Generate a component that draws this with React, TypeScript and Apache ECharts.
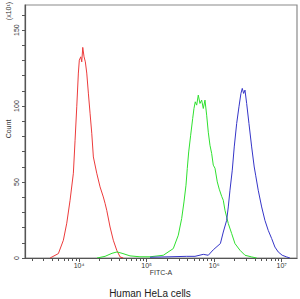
import React, { useEffect, useRef } from "react";
import * as echarts from "echarts";

// Histogram traces: [log10(FITC-A), count ×10]
const isotypeRed: [number, number][] = [
  [3.571, 0], [3.694, 2.9], [3.768, 11.7], [3.818, 22.9], [3.867, 38.0],
  [3.916, 55.8], [3.941, 77.5], [3.966, 99.5], [3.99, 121.7], [4.004, 130.2],
  [4.025, 132.4], [4.04, 129.1], [4.055, 138.6], [4.074, 132.4], [4.093, 129.1],
  [4.114, 121.7], [4.138, 108.5], [4.163, 95.3], [4.188, 82.1], [4.212, 66.5],
  [4.262, 55.8], [4.311, 46.8], [4.359, 40.2], [4.385, 36.0], [4.41, 31.4],
  [4.459, 20.4], [4.507, 11.7], [4.558, 5.1], [4.607, 0.7], [4.655, 0],
];

const controlGreen: [number, number][] = [
  [4.266, 0], [4.385, 1.1], [4.488, 3.1], [4.562, 4.0], [4.636, 3.1],
  [4.754, 1.4], [4.902, 0.8], [5.05, 0.8], [5.247, 1.8], [5.395, 6.2],
  [5.469, 15.0], [5.519, 26.0], [5.553, 36.9], [5.583, 47.9], [5.602, 58.9],
  [5.623, 69.8], [5.652, 80.8], [5.682, 91.8], [5.701, 98.4], [5.72, 102.8],
  [5.741, 100.6], [5.765, 107.2], [5.79, 101.7], [5.815, 103.9], [5.839, 98.4],
  [5.864, 103.9], [5.889, 94.0], [5.913, 82.8], [5.938, 74.2], [5.963, 68.8],
  [5.987, 61.1], [6.012, 59.1], [6.046, 50.1], [6.075, 45.3], [6.111, 40.6],
  [6.135, 38.0], [6.16, 31.4], [6.209, 22.7], [6.259, 16.1], [6.308, 9.5],
  [6.382, 5.1], [6.456, 1.8], [6.555, 0.7], [6.629, 0],
];

const stainedBlue: [number, number][] = [
  [5.05, 0.5], [5.346, 0.8], [5.593, 1.1], [5.716, 1.1], [5.839, 2.4],
  [5.913, 1.8], [5.987, 5.4], [6.092, 9.5], [6.135, 17.1], [6.185, 24.8],
  [6.209, 33.6], [6.234, 44.6], [6.268, 57.8], [6.297, 73.1], [6.333, 88.5],
  [6.367, 99.5], [6.396, 108.3], [6.416, 111.6], [6.436, 108.3], [6.456, 110.5],
  [6.481, 101.7], [6.515, 88.5], [6.555, 73.1], [6.593, 59.9], [6.614, 54.5],
  [6.652, 44.6], [6.703, 33.6], [6.751, 24.8], [6.8, 18.2], [6.851, 12.8],
  [6.899, 7.2], [6.948, 4.0], [7.007, 1.8], [7.073, 0.7], [7.121, 0],
];

const decadeTicks = [4, 5, 6, 7];
const decadeLabels: Record<number, string> = { 4: "10⁴", 5: "10⁵", 6: "10⁶", 7: "10⁷" };
const countLabels = [0, 50, 100, 150];

const X_MIN = 3.2;
const X_MAX = 7.226;
const Y_MAX = 166.5;

// minor log ticks at 2..9 × 10^d inside the axis range
const minorTicks: number[] = [];
for (let d = 3; d <= 7; d++) {
  for (let k = 2; k <= 9; k++) {
    const v = Math.log10(k * Math.pow(10, d));
    if (v > X_MIN && v < X_MAX) minorTicks.push(v);
  }
}
const countTicks: number[] = [];
for (let v = 0; v <= 160; v += 10) countTicks.push(v);

const FONT = "'Liberation Sans Narrow', 'Liberation Sans', Arial, sans-serif";

export default function App() {
  const ref = useRef<HTMLDivElement>(null);

  useEffect(() => {
    if (!ref.current) return;
    const chart = echarts.init(ref.current, null, { renderer: "svg" });
    const line = (data: [number, number][], color: string) => ({
      type: "line",
      data,
      xAxisIndex: 0,
      showSymbol: false,
      symbol: "none",
      lineStyle: { color, width: 1 },
      z: 3,
    });
    chart.setOption({
      animation: false,
      backgroundColor: "#ffffff",
      grid: {
        left: 25,
        right: 3,
        top: 5,
        bottom: 41,
        show: true,
        borderColor: "#8a8a8a",
        borderWidth: 1.2,
        backgroundColor: "transparent",
      },
      xAxis: [
        {
          type: "value",
          min: X_MIN,
          max: X_MAX,
          position: "bottom",
          axisLine: { show: true, lineStyle: { color: "#555", width: 1.2 } },
          axisTick: {
            show: true,
            customValues: decadeTicks,
            length: 4,
            lineStyle: { color: "#555" },
          },
          axisLabel: {
            show: true,
            customValues: decadeTicks,
            formatter: (v: number) => decadeLabels[Math.round(v)] ?? "",
            fontSize: 7,
            fontFamily: FONT,
            color: "#333",
            margin: 4,
          },
          splitLine: { show: false },
        },
        {
          type: "value",
          min: X_MIN,
          max: X_MAX,
          position: "bottom",
          axisLine: { show: false },
          axisTick: {
            show: true,
            customValues: minorTicks,
            length: 3,
            lineStyle: { color: "#555" },
          },
          axisLabel: { show: false },
          splitLine: { show: false },
        },
      ],
      yAxis: {
        type: "value",
        min: 0,
        max: Y_MAX,
        axisLine: { show: true, lineStyle: { color: "#555", width: 1.2 } },
        axisTick: {
          show: true,
          customValues: countTicks,
          length: 3,
          lineStyle: { color: "#555" },
        },
        axisLabel: {
          show: true,
          customValues: countLabels,
          rotate: 90,
          fontSize: 7,
          fontFamily: FONT,
          color: "#333",
          margin: 5,
        },
        splitLine: { show: false },
      },
      series: [
        line(isotypeRed, "#ec3b3b"),
        line(controlGreen, "#2fe02f"),
        line(stainedBlue, "#3535c8"),
      ],
      graphic: [
        {
          type: "text",
          x: 8,
          y: 11,
          rotation: Math.PI / 2,
          style: {
            text: "(x10¹)",
            fontSize: 7,
            fontFamily: FONT,
            fill: "#333",
            align: "center",
            verticalAlign: "middle",
          },
        },
        {
          type: "text",
          x: 8,
          y: 129,
          rotation: Math.PI / 2,
          style: {
            text: "Count",
            fontSize: 7,
            fontFamily: FONT,
            fill: "#333",
            align: "center",
            verticalAlign: "middle",
          },
        },
        {
          type: "text",
          x: 161,
          y: 272,
          style: {
            text: "FITC-A",
            fontSize: 7,
            fontFamily: FONT,
            fill: "#333",
            align: "center",
            verticalAlign: "middle",
          },
        },
        {
          type: "text",
          x: 150,
          y: 293,
          style: {
            text: "Human HeLa cells",
            fontSize: 10,
            fontFamily: FONT,
            fill: "#222",
            align: "center",
            verticalAlign: "middle",
          },
        },
      ],
    });
    return () => chart.dispose();
  }, []);

  return (
    <div
      ref={ref}
      style={{ position: "fixed", left: 0, top: 0, width: 300, height: 299 }}
    />
  );
}
